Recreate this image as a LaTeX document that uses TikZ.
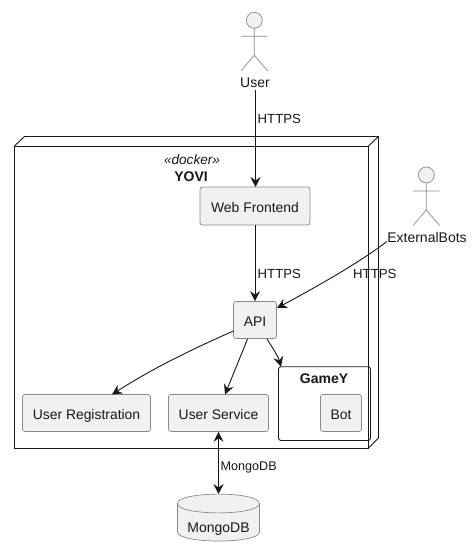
\documentclass[tikz,border=0pt]{standalone}
\usepackage{fontspec}
\setmainfont{Liberation Sans}
\usetikzlibrary{arrows.meta,calc}
\definecolor{ink}{HTML}{181818}
\definecolor{boxfill}{HTML}{F1F1F1}
\definecolor{boxline}{HTML}{8A8A8A}
\tikzset{
  comp/.style={draw=boxline,fill=boxfill,line width=0.7pt,rounded corners=2.5pt,inner sep=0pt,text height=12pt,text depth=0pt,font=\fontsize{13.9}{16}\selectfont,text=ink},
  lbl/.style={font=\fontsize{13.2}{16}\selectfont,text=ink,inner sep=0pt},
  link/.style={draw=ink,line width=0.9pt,-{Stealth[length=10pt,width=10pt,inset=3.5pt]}},
  dlink/.style={draw=ink,line width=0.9pt,{Stealth[length=10pt,width=10pt,inset=3.5pt]}-{Stealth[length=10pt,width=10pt,inset=3.5pt]}},
  frame/.style={draw=ink,line width=0.9pt},
  actorline/.style={draw=boxline,line width=0.7pt},
}
\newcommand{\actorfig}[2]{%
  \draw[actorline,fill=boxfill] (#1,#2) circle (8);
  \draw[actorline] (#1,#2+8) -- (#1,#2+35) (#1-13.3,#2+16) -- (#1+13.3,#2+16)
    (#1-13.3,#2+50.5) -- (#1,#2+35) -- (#1+13.3,#2+50.5);}
\begin{document}
\begin{tikzpicture}[x=1pt,y=-1pt]
\useasboundingbox (0,0) rectangle (471,556);
% docker node
\draw[frame] (14.5,146) rectangle (368.5,448);
\draw[frame] (14.5,146) -- (24.5,136.5) -- (378.5,136.5) -- (378.5,438) -- (368.5,448);
\draw[frame] (368.5,146) -- (378.5,136.5);
\node[lbl,font=\fontsize{13.6}{15}\itshape] (stereo) at (192,160) {«docker»};
\node[lbl,font=\fontsize{14}{16}\bfseries] (yovi) at (191,176.5) {YOVI};
% GameY
\draw[frame,rounded corners=2.5pt] (278.5,366.7) rectangle (370.5,440.5);
\coordinate (gamey) at (281,366.7);
\node[lbl,font=\fontsize{14}{16}\bfseries] (gameyl) at (324,378.7) {GameY};
% components
\node[comp,minimum width=110pt,minimum height=38pt] (web) at (255,206) {Web Frontend};
\node[comp,minimum width=43pt,minimum height=37pt] (api) at (255,320) {API};
\node[comp,minimum width=128pt,minimum height=37pt] (reg) at (86.5,413) {User Registration};
\node[comp,minimum width=100pt,minimum height=37pt] (svc) at (218.5,413) {User Service};
\node[comp,minimum width=41pt,minimum height=37pt] (bot) at (341,413) {Bot};
% actors
\actorfig{254.3}{20.3}
\node[lbl,font=\fontsize{14}{16}\selectfont] (user) at (255,83) {User};
\actorfig{426.3}{175}
\node[lbl,font=\fontsize{14}{16}\selectfont] (bots) at (427,237.5) {ExternalBots};
% database
\draw[actorline,fill=boxfill] (177.5,503.5) .. controls (177.5,491) and (259.5,491) .. (259.5,503.5)
  -- (259.5,532) .. controls (259.5,544) and (177.5,544) .. (177.5,532) -- cycle;
\draw[actorline] (177.5,503.5) .. controls (177.5,516) and (259.5,516) .. (259.5,503.5);
\node[lbl,font=\fontsize{14}{16}\selectfont] (mongo) at (218.5,529.5) {MongoDB};
\coordinate (mongotop) at (218.5,494);
% connectors
\coordinate (userout) at (255.5,90);
\coordinate (webin) at (255.5,187);
\draw[link] (userout) -- (webin);
\draw[link] (web.south) -- (api.north);
\coordinate (botsout) at (387,241.5);
\coordinate (apiin) at (277,308);
\draw[link] (botsout) .. controls (360,262) and (320,285) .. (apiin);
\coordinate (apiw) at (233.5,331);
\coordinate (regn) at (112,394.5);
\draw[link] (apiw) .. controls (190,350) and (150,370) .. (regn);
\coordinate (apis) at (247.5,339);
\coordinate (svcn) at (225,394.5);
\draw[link] (apis) -- (svcn);
\coordinate (apise) at (267,339);
\draw[link] (apise) .. controls (272,347) and (278,356) .. (gamey);
\coordinate (svcs) at (218.5,431.8);
\draw[dlink] (svcs) -- (mongotop);
% labels
\node[lbl,anchor=west] (l1) at (257.5,118.7) {HTTPS};
\node[lbl,anchor=west] (l2) at (257.5,273.7) {HTTPS};
\node[lbl,anchor=west] (l3) at (353,273.7) {HTTPS};
\node[lbl,anchor=west,font=\fontsize{12.6}{14}\selectfont] (l4) at (220.5,467.5) {MongoDB};
\end{tikzpicture}
\end{document}
